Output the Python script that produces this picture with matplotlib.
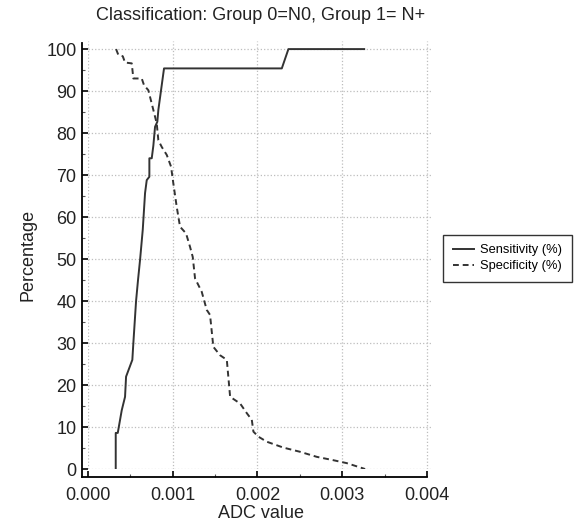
import numpy as np
import matplotlib
matplotlib.use('Agg')
import matplotlib.pyplot as plt
from matplotlib.ticker import MultipleLocator

plt.rcParams['font.family'] = ['Liberation Sans', 'DejaVu Sans']

# criterion curve: ADC value vs percentage
sens_x = [0.000327, 0.000327, 0.000351, 0.000398, 0.000437, 0.000449, 0.000523,
          0.000535, 0.000567, 0.000590, 0.000615, 0.000646, 0.000673, 0.000693,
          0.000724, 0.000724, 0.000752, 0.000771, 0.000791, 0.000818, 0.000830,
          0.000897, 0.002287, 0.002365, 0.003259]
sens_y = [0, 8.6, 8.6, 14, 17.2, 22, 26,
          30, 40, 45, 50, 57, 65.7, 68.8,
          69.6, 74, 74, 77, 81.5, 82.7, 85.5,
          95.4, 95.4, 100, 100]

spec_x = [0.000331, 0.000358, 0.000410, 0.000437, 0.000516, 0.000535, 0.000634,
          0.000661, 0.000712, 0.000771, 0.000811, 0.000830, 0.000870, 0.000929,
          0.000980, 0.001007, 0.001047, 0.001086, 0.001157, 0.001204, 0.001236,
          0.001263, 0.001342, 0.001401, 0.001440, 0.001479, 0.001558, 0.001638,
          0.001677, 0.001795, 0.001874, 0.001933, 0.001952, 0.002011, 0.002110,
          0.002306, 0.002503, 0.002700, 0.002896, 0.003054, 0.003270]
spec_y = [100, 98.6, 98.3, 96.8, 96.6, 93, 93,
          91.4, 90.2, 85.5, 82.3, 78.3, 76.7, 74.8,
          72, 68, 62.4, 57.7, 56.1, 52.9, 50.5,
          45.4, 42.2, 37.9, 36.7, 29.1, 27.1, 26,
          17.2, 15.6, 13.3, 11.7, 8.9, 7.7, 6.5,
          5.1, 4.1, 2.9, 2.1, 1.4, 0]

line_col = '#333333'

fig = plt.figure(figsize=(5.81, 5.27), dpi=100)
ax = fig.add_axes([0.1515, 0.110, 0.594, 0.812])

ax.plot(sens_x, sens_y, '-', color=line_col, lw=1.4, label='Sensitivity (%)')
ax.plot(spec_x, spec_y, color=line_col, lw=1.4, linestyle=(0, (3, 2)),
        label='Specificity (%)')

ax.set_xlim(0, 0.004073)
ax.set_ylim(0, 101.9)
ax.xaxis.set_minor_locator(MultipleLocator(0.0005))
ax.yaxis.set_major_locator(MultipleLocator(10))
ax.yaxis.set_minor_locator(MultipleLocator(5))
ax.set_xticks([0, 0.001, 0.002, 0.003, 0.004])
ax.set_xticklabels(['0.000', '0.001', '0.002', '0.003', '0.004'])

ax.grid(True, which='major', color='#bdbdbd', linestyle=':', lw=0.9)

for s in ['top', 'right']:
    ax.spines[s].set_visible(False)
ax.spines['left'].set_position(('outward', 4.3))
ax.spines['bottom'].set_position(('outward', 5.8))
ax.spines['left'].set_bounds(-1.9, 101.5)
ax.spines['bottom'].set_bounds(-0.0000708, 0.004)
for s in ['left', 'bottom']:
    ax.spines[s].set_linewidth(1.3)
    ax.spines[s].set_color('black')

ax.tick_params(which='major', direction='in', length=4.5, width=1.2,
               labelsize=13, color='black', labelcolor='#222222')
ax.tick_params(which='minor', direction='in', length=2.5, width=0.8,
               color='#555555')
ax.tick_params(axis='y', which='major', pad=4)
ax.tick_params(axis='x', which='major', pad=7)

ax.set_title('Classification: Group 0=N0, Group 1= N+', fontsize=13, pad=15,
             color='#222222')
ax.set_xlabel('ADC value', fontsize=13, labelpad=1, color='#222222')
ax.set_ylabel('Percentage', fontsize=13, labelpad=7, color='#222222')

leg = fig.legend(loc='upper left', bbox_to_anchor=(0.752, 0.567),
                 fontsize=9.3, frameon=True, fancybox=False, handlelength=1.6,
                 handletextpad=0.5, borderpad=0.75, labelspacing=0.3)
leg.get_frame().set_edgecolor('black')
leg.get_frame().set_linewidth(1.0)

plt.savefig('out.png', dpi=100)
